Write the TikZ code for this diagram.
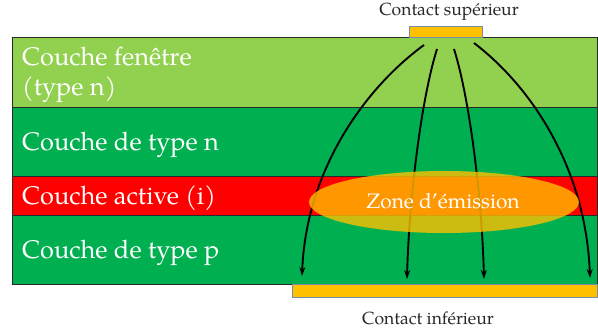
\documentclass[tikz,border=0pt]{standalone}
\usepackage{fontspec}
\setmainfont{TeX Gyre Pagella}
\usetikzlibrary{arrows.meta,shapes.geometric}
\definecolor{lightgr}{RGB}{146,208,80}
\definecolor{darkgr}{RGB}{0,176,80}
\definecolor{actred}{RGB}{255,0,0}
\definecolor{contactc}{RGB}{255,192,0}
\definecolor{contactb}{RGB}{120,140,170}
\definecolor{zonec}{RGB}{255,190,0}
\definecolor{edgec}{RGB}{40,40,40}
\definecolor{captc}{RGB}{40,40,40}
\tikzset{
  layer/.style={draw=edgec,line width=0.8bp},
  lbl/.style={anchor=base west,inner sep=0,text=white,font=\fontsize{25.5}{30}\selectfont},
  contact/.style={draw=contactb,fill=contactc,line width=0.8bp,inner sep=0},
  captxt/.style={anchor=base,inner sep=0,text=captc,font=\fontsize{17.6}{20}\selectfont},
  flow/.style={line width=1.9bp,draw=black,-{Stealth[length=9bp,width=6bp]}},
}
\begin{document}
\begin{tikzpicture}[x=1bp,y=-1bp]
\useasboundingbox (0,0) rectangle (598,333);
% layers
\fill[lightgr] (12,37) rectangle (597,107);
\fill[darkgr] (12,107) rectangle (597,176);
\fill[actred] (12,176) rectangle (597,215);
\fill[darkgr] (12,215) rectangle (597,284);
\draw[layer] (12,37) rectangle (597,284);
\draw[layer] (12,107) -- (597,107);
\draw[layer] (12,176) -- (597,176);
\draw[layer] (12,215) -- (597,215);
% contacts
\node[contact,minimum width=73bp,minimum height=11bp] (top) at (445.5,31.5) {};
\node[contact,minimum width=305bp,minimum height=13bp] (bot) at (444.5,290.5) {};
\node[captxt] (toptxt) at (449,15) {Contact supérieur};
\node[captxt] (bottxt) at (428,324) {Contact inférieur};
% labels
\node[lbl] (l1) at (22,65) {Couche fenêtre};
\node[lbl] (l1b) at (22,95) {(type n)};
\node[lbl] (l2) at (22,150) {Couche de type n};
\node[lbl] (l3) at (22,204) {Couche active (i)};
\node[lbl] (l4) at (22,258) {Couche de type p};
% current lines
\coordinate (s1) at (424,45); \coordinate (e1) at (302,276);
\coordinate (s2) at (437,49); \coordinate (e2) at (407,279);
\coordinate (s3) at (454,49); \coordinate (e3) at (484,279);
\coordinate (s4) at (474,43); \coordinate (e4) at (590,278);
\draw[flow] (s1) .. controls (365,88) and (306,170) .. (e1);
\draw[flow] (s2) .. controls (421,100) and (409,200) .. (e2);
\draw[flow] (s3) .. controls (470,100) and (482,200) .. (e3);
\draw[flow] (s4) .. controls (533,88) and (586,170) .. (e4);
% emission zone
\node[ellipse,fill=zonec,fill opacity=0.8,minimum width=270bp,minimum height=62bp,inner sep=0] (zone) at (444,202) {};
\node[anchor=base,inner sep=0,text=white,font=\fontsize{21}{24}\selectfont] (zonetxt) at (443,208) {Zone d’émission};
\end{tikzpicture}
\end{document}
